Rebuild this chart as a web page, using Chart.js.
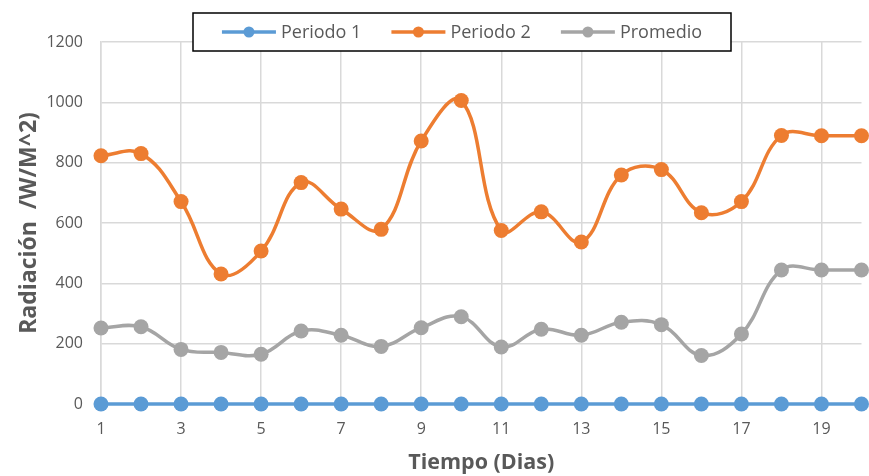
<!DOCTYPE html>
<html>
<head>
<meta charset="utf-8">
<script src="https://cdn.jsdelivr.net/npm/chart.js@4/dist/chart.umd.min.js"></script>
<style>
  html, body { margin: 0; padding: 0; background: #ffffff; }
  #wrap { width: 869px; height: 476px; position: relative; }
</style>
</head>
<body>
<div id="wrap"><canvas id="chart"></canvas></div>
<script>
// Days on the category axis
const dias = ['1','2','3','4','5','6','7','8','9','10','11','12','13','14','15','16','17','18','19','20'];

// Radiation series (W/M^2)
const periodo1 = [0, 0, 0, 0, 0, 0, 0, 0, 0, 0, 0, 0, 0, 0, 0, 0, 0, 0, 0, 0];
const periodo2 = [823, 830, 671, 431, 507, 734, 646, 579, 872, 1006, 575, 637, 537, 759, 777, 634, 671, 890, 889, 889];
const promedio = [252, 256, 181, 171, 165, 242, 228, 191, 253, 289, 189, 248, 228, 271, 263, 161, 232, 444, 444, 444];

// Value axis range
const yMin = 0;
const yMax = 1200;
const yStep = 200;

const seriesNames = ['Periodo 1', 'Periodo 2', 'Promedio'];
const seriesColors = ['#5B9BD5', '#ED7D31', '#A5A5A5'];

const FONT = "'Open Sans', sans-serif";
const TEXT = '#595959';
const GRID = '#d9d9d9';

Chart.defaults.font.family = FONT;
Chart.defaults.color = TEXT;

function lineSet(label, data, color) {
  return {
    label: label,
    data: data,
    borderColor: color,
    backgroundColor: color,
    borderWidth: 3.5,
    tension: 0.4,
    pointRadius: 7.5,
    pointBorderWidth: 0,
    pointBackgroundColor: color,
    clip: false
  };
}

// Framed legend with line-and-marker swatches, drawn over the top of the plot
const boxedLegend = {
  id: 'boxedLegend',
  afterDraw(chart) {
    const ctx = chart.ctx;
    const boxX = 193, boxY = 13, boxW = 538, boxH = 38;
    const cy = boxY + boxH / 2;
    ctx.save();
    ctx.fillStyle = '#ffffff';
    ctx.fillRect(boxX, boxY, boxW, boxH);
    ctx.lineWidth = 1.5;
    ctx.strokeStyle = '#000000';
    ctx.strokeRect(boxX, boxY, boxW, boxH);

    ctx.font = "18px " + FONT;
    const swatch = 54, gapText = 5, gapItem = 30;
    const widths = seriesNames.map(n => ctx.measureText(n).width);
    let total = 0;
    widths.forEach((w, i) => { total += swatch + gapText + w + (i < widths.length - 1 ? gapItem : 0); });
    let x = boxX + boxW / 2 - total / 2;
    seriesNames.forEach((name, i) => {
      ctx.strokeStyle = seriesColors[i];
      ctx.lineWidth = 3.5;
      ctx.beginPath();
      ctx.moveTo(x, cy);
      ctx.lineTo(x + swatch, cy);
      ctx.stroke();
      ctx.fillStyle = seriesColors[i];
      ctx.beginPath();
      ctx.arc(x + swatch / 2, cy, 5.5, 0, Math.PI * 2);
      ctx.fill();
      ctx.fillStyle = TEXT;
      ctx.textBaseline = 'middle';
      ctx.textAlign = 'left';
      ctx.fillText(name, x + swatch + gapText, cy + 1);
      x += swatch + gapText + widths[i] + gapItem;
    });
    ctx.restore();
  }
};

new Chart(document.getElementById('chart'), {
  type: 'line',
  data: {
    labels: dias,
    datasets: [
      lineSet(seriesNames[0], periodo1, seriesColors[0]),
      lineSet(seriesNames[1], periodo2, seriesColors[1]),
      lineSet(seriesNames[2], promedio, seriesColors[2])
    ]
  },
  options: {
    responsive: true,
    maintainAspectRatio: false,
    animation: false,
    layout: { padding: { left: 0, top: 42, right: 2, bottom: 0 } },
    plugins: {
      legend: { display: false },
      tooltip: { enabled: false }
    },
    scales: {
      x: {
        type: 'category',
        offset: false,
        afterFit(scale) {
          scale.height = 72;
          scale.paddingLeft = 0;
          scale.paddingRight = 0;
        },
        grid: {
          drawTicks: false,
          lineWidth: 1.5,
          color: (c) => (c.index % 2 === 0 ? GRID : 'rgba(0,0,0,0)')
        },
        border: { display: true, color: GRID, width: 1.5 },
        ticks: {
          autoSkip: false,
          maxRotation: 0,
          padding: 16,
          font: { size: 16 },
          color: TEXT,
          callback: (v, i) => (i % 2 === 0 ? dias[i] : '')
        },
        title: {
          display: true,
          text: 'Tiempo (Dias)',
          font: { size: 21.5, weight: 'bold' },
          color: TEXT,
          padding: { top: 0, bottom: 0 }
        }
      },
      y: {
        min: yMin,
        max: yMax,
        afterFit(scale) { scale.width = 101; },
        grid: { drawTicks: false, lineWidth: 1.5, color: GRID },
        border: { display: true, color: GRID, width: 1.5 },
        ticks: {
          stepSize: yStep,
          padding: 18,
          font: { size: 16 },
          color: TEXT,
          callback: (v) => String(v)
        },
        title: {
          display: true,
          text: 'Radiación  /W/M^2)',
          font: { size: 23, weight: 'bold' },
          color: TEXT,
          padding: { top: 16, bottom: 0 }
        }
      }
    }
  },
  plugins: [boxedLegend]
});
</script>
</body>
</html>
